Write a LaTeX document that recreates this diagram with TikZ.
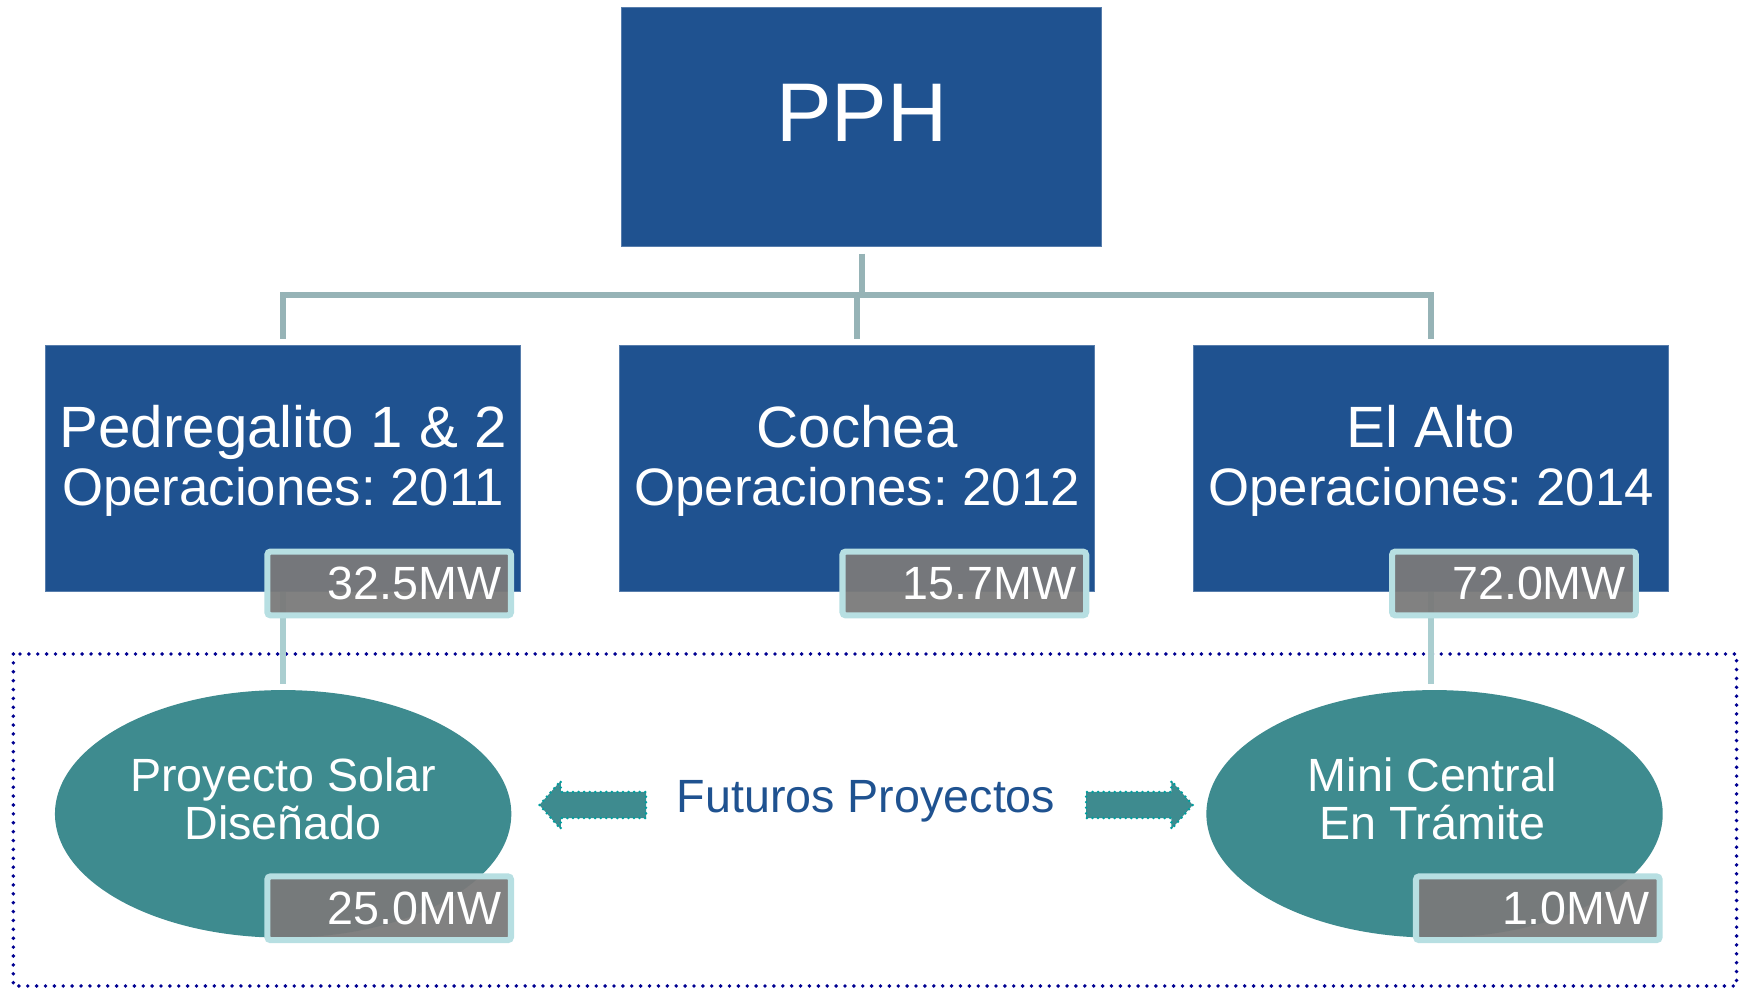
\documentclass[tikz,border=0pt]{standalone}
\usepackage{fontspec}
\setmainfont{Liberation Sans}
\usetikzlibrary{shapes.geometric,shapes.arrows}
\frenchspacing

\definecolor{pphblue}{RGB}{31,82,144}
\definecolor{busgray}{RGB}{150,179,182}
\definecolor{linkgray}{RGB}{170,206,208}
\definecolor{mwcyan}{RGB}{183,223,226}
\definecolor{mwgray}{RGB}{122,122,122}
\definecolor{ellteal}{RGB}{62,139,143}
\definecolor{arrowteal}{RGB}{0,158,158}
\definecolor{dotblue}{RGB}{0,0,145}

\newcommand{\opyear}[1]{\fontsize{47.5}{52}\selectfont Operaciones: #1}

\tikzstyle{unit} = [fill=pphblue, draw=pphblue!75!white, line width=1pt,%
                    minimum width=428pt, minimum height=222pt, anchor=center]
\tikzstyle{unittext} = [text=white, align=center, font=\fontsize{52.5}{52}\selectfont]
\tikzstyle{power} = [draw=mwcyan, line width=5.5pt, fill=mwgray, fill opacity=0.95, text opacity=1,%
                     text=white, rounded corners=3pt, minimum width=219.5pt, minimum height=57.5pt,%
                     text width=201.5pt, inner xsep=9pt, align=right, font=\fontsize{42}{48}\selectfont]
\tikzstyle{future} = [ellipse, fill=ellteal, minimum width=411pt, minimum height=223pt, inner sep=0pt]
\tikzstyle{futuretext} = [text=white, align=center, font=\fontsize{42}{43}\selectfont]
\tikzstyle{bus} = [draw=busgray, line width=5.5pt]
\tikzstyle{link} = [draw=linkgray, line width=5pt]
\tikzstyle{futarrow} = [single arrow, fill=ellteal, draw=arrowteal, line width=2.5pt,%
                        dash pattern=on 0pt off 5pt, line cap=round, minimum height=96pt,%
                        inner xsep=0pt, inner ysep=10.5pt, single arrow head extend=10pt,%
                        single arrow tip angle=97]

\begin{document}
\begin{tikzpicture}[x=1pt, y=-1pt, node distance=517pt]
	\useasboundingbox (0,0) rectangle (1568,890);

	% future projects frame
	\draw[draw=dotblue, line width=3.5pt, line cap=round, dash pattern=on 0pt off 8pt] (12,589) rectangle (1564,888);

	\node (PPH) [unit, minimum width=432pt, minimum height=215pt] at (776,114.5) {};
	\node (PPHtxt) [text=white, font=\fontsize{75}{80}\selectfont] at (776,102) {PPH};

	\node (Pedregalito) [unit] at (255,422) {};
	\node (Cochea)      [unit, right of = Pedregalito] {};
	\node (ElAlto)      [unit, right of = Cochea] {};

	\node (PedregalitoTxt) [unittext] at ([yshift=7pt]Pedregalito.center) {Pedregalito 1 \& 2\\\opyear{2011}};
	\node (CocheaTxt)      [unittext] at ([yshift=7pt]Cochea.center) {Cochea\\\opyear{2012}};
	\node (ElAltoTxt)      [unittext] at ([yshift=7pt]ElAlto.center) {El Alto\\\opyear{2014}};

	\coordinate (bus) at (776,266);
	\draw[bus, shorten <=6pt] (PPH.south) -- (PPH.south |- bus);
	\draw[bus, shorten >=5pt] (bus) -| (Pedregalito.north);
	\draw[bus, shorten >=5pt] (bus) -| (ElAlto.north);
	\draw[bus, shorten >=5pt] (Cochea.north |- bus) -- (Cochea.north);

	\node (Solar)       [future] at (255,733) {};
	\node (MiniCentral) [future] at (1292,733) {};
	\node (SolarTxt)       [futuretext] at (255,719.5) {Proyecto Solar\\Diseñado};
	\node (MiniCentralTxt) [futuretext] at (1290,719.5) {Mini Central\\En Trámite};

	\draw[link, shorten >=5pt] (Pedregalito.south) -- (Solar.north);
	\draw[link, shorten >=5pt] (ElAlto.south) -- (ElAlto.south |- MiniCentral.north);

	\node (PedregalitoMW) [power] at (350.5,525.5) {32.5MW};
	\node (CocheaMW)      [power] at (868.5,525.5) {15.7MW};
	\node (ElAltoMW)      [power] at (1363.5,525.5) {72.0MW};
	\node (SolarMW)       [power] at (350.5,818) {25.0MW};
	\node (MiniCentralMW) [power] at (1385,818) {1.0MW};

	\node (arrowL) [futarrow, shape border rotate=180] at (539,725) {};
	\node (arrowR) [futarrow] at (1021,725) {};
	\node (Futuros) [text=pphblue, font=\fontsize{42}{48}\selectfont] at (780,722) {Futuros Proyectos};
\end{tikzpicture}
\end{document}
